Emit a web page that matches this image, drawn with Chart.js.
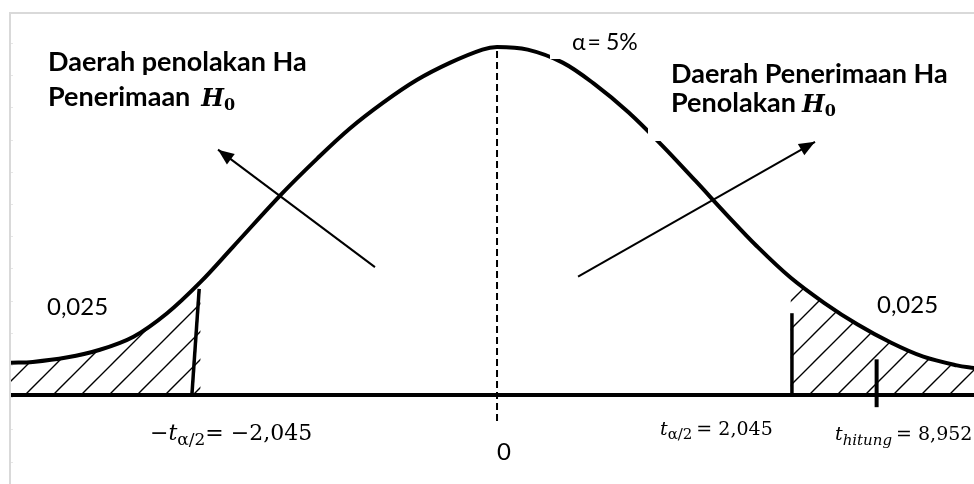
<!DOCTYPE html>
<html>
<head>
<meta charset="utf-8">
<script src="https://cdn.jsdelivr.net/npm/chart.js@4.4.0/dist/chart.umd.min.js"></script>
<style>
  html, body { margin: 0; padding: 0; background: #fff; }
  #wrap { width: 974px; height: 484px; }
</style>
</head>
<body>
<div id="wrap"><canvas id="chart"></canvas></div>
<script>
//DATA (x in t units, y in density units, baseline y = 0)
const xRange = [-3.329, 3.267];
const yRange = [-0.1023, 0.4379];

const curveX = [-3.33, -3.18, -2.95, -2.72, -2.49, -2.26, -2.03, -1.81, -1.47, -1.23, -1.01, -0.78, -0.55, -0.32, -0.10, 0, 0.21, 0.45, 0.67, 0.90, 1.13, 1.36, 1.58, 1.78, 2.01, 2.24, 2.47, 2.70, 2.92, 3.15, 3.27];
const curveY = [0.037, 0.038, 0.043, 0.052, 0.067, 0.094, 0.130, 0.170, 0.232, 0.272, 0.306, 0.336, 0.362, 0.382, 0.397, 0.400, 0.397, 0.382, 0.357, 0.325, 0.287, 0.246, 0.206, 0.171, 0.135, 0.106, 0.081, 0.060, 0.044, 0.034, 0.031];

// critical lines / markers
const critLeftX = [-2.09, -2.04];
const critLeftY = [0, 0.122];
const critRightX = [2.02, 2.02];
const critRightY = [0, 0.094];
const hitungX = [2.60, 2.60];
const hitungY = [-0.014, 0.041];
const centerX = [0, 0];
const centerY = [-0.030, 0.400];

// arrows (tail -> head)
const arrowLeftX = [-0.836, -1.911];
const arrowLeftY = [0.147, 0.282];
const arrowRightX = [0.555, 2.178];
const arrowRightY = [0.136, 0.291];

// texts
const tCrit = "2,045";
const tHitung = "8,952";
const tailText = "0,025";

//STYLE
const fBold = "bold 27px Lato";
const fH = "bold italic 24px 'DejaVu Serif'";
const fHsub = "bold 16px 'DejaVu Serif'";
const fNum = "24px Lato";
const fAlpha = "23px Lato";
const serif = (size, style) => (style ? style + " " : "") + size + "px 'DejaVu Serif'";

const pts = (xs, ys) => xs.map((x, i) => ({ x: x, y: ys[i] }));

// hatch pattern for the tails
function hatch(size) {
  const c = document.createElement("canvas");
  c.width = size;
  c.height = size;
  const g = c.getContext("2d");
  g.strokeStyle = "#000";
  g.lineWidth = 1.4;
  g.beginPath();
  g.moveTo(0, size); g.lineTo(size, 0);
  g.moveTo(-size / 4, size / 4); g.lineTo(size / 4, -size / 4);
  g.moveTo(size * 3 / 4, size * 5 / 4); g.lineTo(size * 5 / 4, size * 3 / 4);
  g.stroke();
  return g.createPattern(c, "repeat");
}

// draw a sequence of text runs (for sub/superscripts)
function drawRuns(ctx, x, y, runs) {
  let cx = x;
  runs.forEach((r) => {
    ctx.font = r.font;
    ctx.fillText(r.text, cx, y + (r.dy || 0));
    cx += ctx.measureText(r.text).width + (r.gap || 0);
  });
}

// white boxes behind the text (they cut the curve like in the original)
const textBoxes = [
  { x: 550, y: 14, w: 100, h: 45 },
  { x: 648, y: 60, w: 320, h: 81 },
];

const diagramPlugin = {
  id: "diagram",
  beforeDraw(chart) {
    const ctx = chart.ctx;
    const a = chart.chartArea;
    ctx.save();
    ctx.strokeStyle = "#d9d9d9";
    ctx.lineWidth = 2;
    ctx.beginPath();
    ctx.moveTo(a.left - 1, chart.height);
    ctx.lineTo(a.left - 1, a.top - 1);
    ctx.lineTo(chart.width, a.top - 1);
    ctx.stroke();
    ctx.strokeStyle = "#e6e6e6";
    ctx.lineWidth = 1;
    for (let y = 43; y < chart.height; y += 32.2) {
      ctx.beginPath();
      ctx.moveTo(a.left, Math.round(y) + 0.5);
      ctx.lineTo(a.left + 2, Math.round(y) + 0.5);
      ctx.stroke();
    }
    ctx.restore();
  },
  afterDatasetsDraw(chart) {
    const ctx = chart.ctx;
    ctx.save();

    // text box backgrounds
    ctx.fillStyle = "#fff";
    textBoxes.forEach((b) => ctx.fillRect(b.x, b.y, b.w, b.h));

    // arrow heads
    chart.data.datasets.forEach((ds, i) => {
      if (!ds.arrow) return;
      const el = chart.getDatasetMeta(i).data;
      const p0 = el[0], p1 = el[1];
      const ang = Math.atan2(p1.y - p0.y, p1.x - p0.x);
      const len = 16, half = 6.5;
      ctx.fillStyle = "#000";
      ctx.beginPath();
      ctx.moveTo(p1.x, p1.y);
      ctx.lineTo(p1.x - len * Math.cos(ang) + half * Math.sin(ang), p1.y - len * Math.sin(ang) - half * Math.cos(ang));
      ctx.lineTo(p1.x - len * Math.cos(ang) - half * Math.sin(ang), p1.y - len * Math.sin(ang) + half * Math.cos(ang));
      ctx.closePath();
      ctx.fill();
    });

    // labels
    ctx.fillStyle = "#000";
    ctx.textBaseline = "alphabetic";
    ctx.textAlign = "left";
    drawRuns(ctx, 48, 71, [{ text: "Daerah penolakan Ha", font: fBold }]);
    drawRuns(ctx, 48, 106, [
      { text: "Penerimaan", font: fBold, gap: 11 },
      { text: "H", font: fH },
      { text: "0", font: fHsub, dy: 4 },
    ]);
    drawRuns(ctx, 671, 83, [{ text: "Daerah Penerimaan Ha", font: fBold }]);
    drawRuns(ctx, 671, 112, [
      { text: "Penolakan", font: fBold, gap: 6 },
      { text: "H", font: fH },
      { text: "0", font: fHsub, dy: 4 },
    ]);
    drawRuns(ctx, 572, 50, [
      { text: "\u03b1", font: fAlpha, gap: 2 },
      { text: "=", font: fAlpha, gap: 5 },
      { text: "5%", font: fAlpha },
    ]);
    drawRuns(ctx, 47, 315, [{ text: tailText, font: fNum }]);
    drawRuns(ctx, 877, 313, [{ text: tailText, font: fNum }]);

    const xs = chart.scales.x;
    ctx.font = fNum;
    ctx.textAlign = "center";
    ctx.fillText("0", xs.getPixelForValue(0) + 7, 460);
    ctx.textAlign = "left";

    drawRuns(ctx, 150, 440, [
      { text: "\u2212", font: serif(22) },
      { text: "t", font: serif(22, "italic") },
      { text: "\u03b1/2", font: serif(17), dy: 5 },
      { text: "= \u2212" + tCrit, font: serif(22) },
    ]);
    drawRuns(ctx, 660, 435, [
      { text: "t", font: serif(19, "italic") },
      { text: "\u03b1/2", font: serif(15), dy: 4, gap: 4 },
      { text: "= " + tCrit, font: serif(19) },
    ]);
    drawRuns(ctx, 835, 440, [
      { text: "t", font: serif(19, "italic") },
      { text: "hitung", font: serif(15, "italic"), dy: 5, gap: 4 },
      { text: "= " + tHitung, font: serif(19) },
    ]);

    ctx.restore();
  },
};

function build() {
  const pattern = hatch(28);
  const line = (data, extra) =>
    Object.assign(
      {
        data: data,
        borderColor: "#000",
        borderWidth: 4,
        pointRadius: 0,
        fill: false,
        tension: 0,
      },
      extra || {}
    );

  new Chart(document.getElementById("chart"), {
    type: "line",
    data: {
      datasets: [
        line(pts(curveX, curveY), { tension: 0.35, order: 10 }),
        line(pts(curveX, curveY).filter((p) => p.x <= -2.03), {
          tension: 0.35,
          borderWidth: 0,
          fill: "origin",
          backgroundColor: pattern,
          order: 11,
        }),
        line(pts(curveX, curveY).filter((p) => p.x >= 2.01), {
          tension: 0.35,
          borderWidth: 0,
          fill: "origin",
          backgroundColor: pattern,
          order: 11,
        }),
        line(pts(xRange, [0, 0])),
        line(pts(critLeftX, critLeftY), { borderWidth: 3.5 }),
        line(pts(critRightX, critRightY), { borderWidth: 3.5 }),
        line(pts(hitungX, hitungY), { borderWidth: 4 }),
        line(pts(centerX, centerY), { borderWidth: 2, borderDash: [7, 4] }),
        line(pts(arrowLeftX, arrowLeftY), { borderWidth: 2, arrow: true }),
        line(pts(arrowRightX, arrowRightY), { borderWidth: 2, arrow: true }),
      ],
    },
    options: {
      responsive: true,
      maintainAspectRatio: false,
      animation: false,
      layout: { padding: { left: 11, top: 14, right: 0, bottom: 0 } },
      plugins: {
        legend: { display: false },
        tooltip: { enabled: false },
      },
      scales: {
        x: { type: "linear", min: xRange[0], max: xRange[1], display: false },
        y: { type: "linear", min: yRange[0], max: yRange[1], display: false },
      },
    },
    plugins: [diagramPlugin],
  });
}

Promise.all([
  document.fonts.load("bold 27px Lato"),
  document.fonts.load("24px Lato"),
  document.fonts.load("22px 'DejaVu Serif'"),
  document.fonts.load("italic 22px 'DejaVu Serif'"),
  document.fonts.load("bold italic 24px 'DejaVu Serif'"),
]).then(build, build);
</script>
</body>
</html>
